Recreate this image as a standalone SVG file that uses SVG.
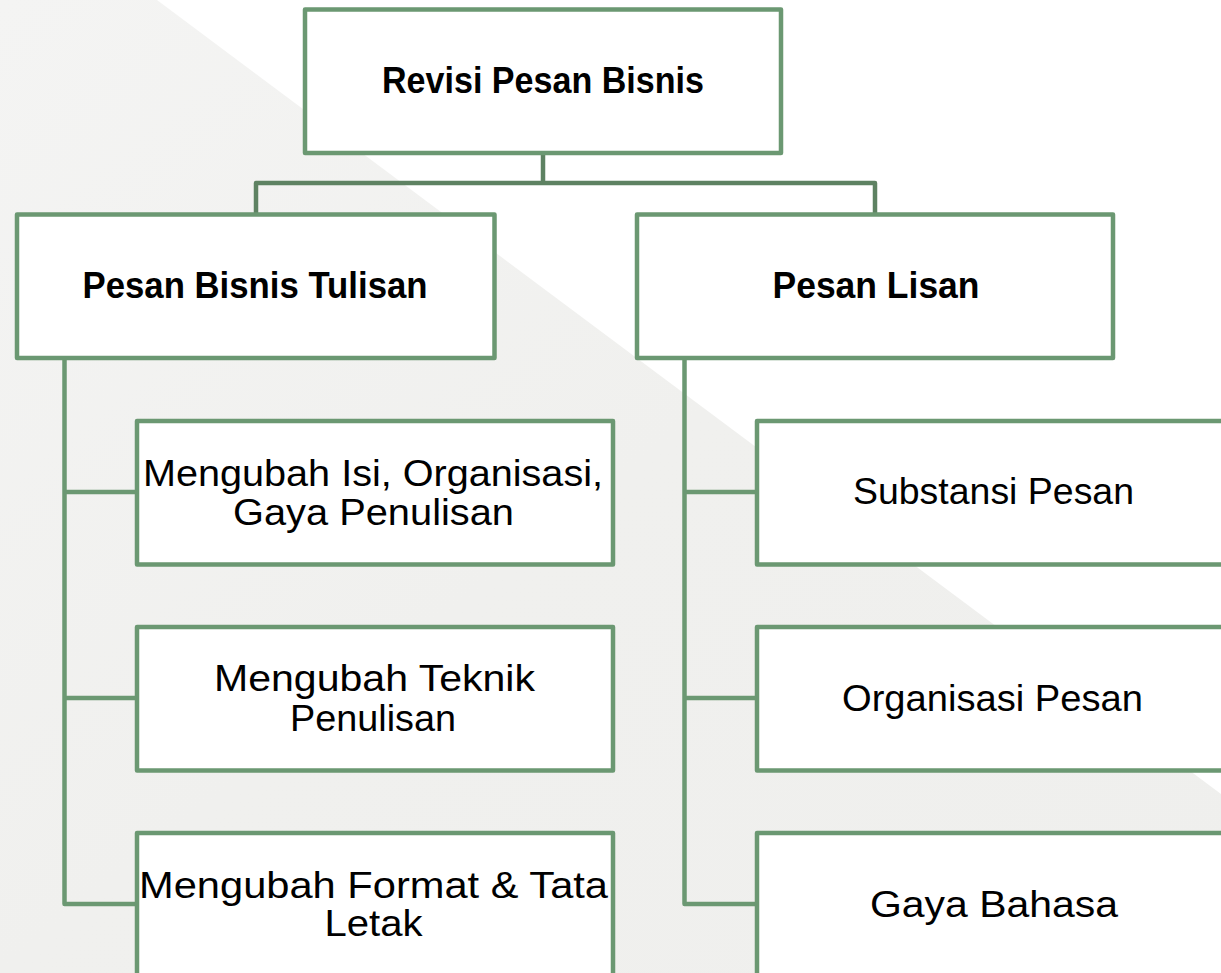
<svg xmlns="http://www.w3.org/2000/svg" width="1221" height="973" viewBox="0 0 1221 973">
  <defs>
    <linearGradient id="bg" x1="0" y1="0" x2="1" y2="1">
      <stop offset="0" stop-color="#f4f4f3"/>
      <stop offset="0.5" stop-color="#f0f0ee"/>
      <stop offset="1" stop-color="#efefed"/>
    </linearGradient>
    <style>
      .box { fill: #ffffff; stroke: #6b9872; stroke-width: 4.5; stroke-linejoin: round; }
      .conn { fill: none; stroke: #6b9872; stroke-width: 4.5; stroke-linejoin: round; stroke-linecap: round; }
      .connTop { fill: none; stroke: #5e8262; stroke-width: 4.5; stroke-linejoin: round; stroke-linecap: round; }
      .hd { font-family: "Liberation Sans", Arial, sans-serif; font-weight: bold; font-size: 36px; fill: #000000; text-anchor: middle; }
      .tx { font-family: "Liberation Sans", Arial, sans-serif; font-size: 37px; fill: #000000; text-anchor: middle; }
    </style>
  </defs>

  <rect x="0" y="0" width="1221" height="973" fill="#ffffff"/>
  <polygon points="0,0 157,0 1221,794 1221,973 0,973" fill="url(#bg)"/>

  <g id="connectors">
    <path class="connTop" d="M543,153 V183 M256,214 V183 H875 V214"/>
    <path class="conn" d="M64.5,358 V904 M64.5,492 H137 M64.5,698 H137 M64.5,904 H137"/>
    <path class="conn" d="M684.5,358 V904 M684.5,492 H757 M684.5,698 H757 M684.5,904 H757"/>
  </g>

  <g id="node-revisi">
    <rect class="box" x="305" y="9.5" width="476" height="143.5"/>
    <text class="hd" x="543" y="93" textLength="322" lengthAdjust="spacingAndGlyphs">Revisi Pesan Bisnis</text>
  </g>

  <g id="node-tulisan">
    <rect class="box" x="17" y="214.5" width="477.5" height="143.5"/>
    <text class="hd" x="255" y="298" textLength="345" lengthAdjust="spacingAndGlyphs">Pesan Bisnis Tulisan</text>
  </g>

  <g id="node-lisan">
    <rect class="box" x="637" y="214.5" width="476" height="143.5"/>
    <text class="hd" x="876" y="298" textLength="207" lengthAdjust="spacingAndGlyphs">Pesan Lisan</text>
  </g>

  <g id="node-isi">
    <rect class="box" x="137" y="421" width="476" height="143.5"/>
    <text class="tx" x="373" y="485.5" textLength="460" lengthAdjust="spacingAndGlyphs">Mengubah Isi, Organisasi,</text>
    <text class="tx" x="373.5" y="524.5" textLength="281" lengthAdjust="spacingAndGlyphs">Gaya Penulisan</text>
  </g>

  <g id="node-teknik">
    <rect class="box" x="137" y="627" width="476" height="143.5"/>
    <text class="tx" x="374.5" y="690.5" textLength="321" lengthAdjust="spacingAndGlyphs">Mengubah Teknik</text>
    <text class="tx" x="373" y="730.5" textLength="166" lengthAdjust="spacingAndGlyphs">Penulisan</text>
  </g>

  <g id="node-format">
    <rect class="box" x="137" y="833" width="476" height="143.5"/>
    <text class="tx" x="373.5" y="897.5" textLength="469" lengthAdjust="spacingAndGlyphs">Mengubah Format &amp; Tata</text>
    <text class="tx" x="373.5" y="935.5" textLength="98" lengthAdjust="spacingAndGlyphs">Letak</text>
  </g>

  <g id="node-substansi">
    <rect class="box" x="757" y="421" width="476" height="143.5"/>
    <text class="tx" x="993.5" y="504" textLength="281" lengthAdjust="spacingAndGlyphs">Substansi Pesan</text>
  </g>

  <g id="node-organisasi">
    <rect class="box" x="757" y="627" width="476" height="143.5"/>
    <text class="tx" x="992.5" y="711" textLength="301" lengthAdjust="spacingAndGlyphs">Organisasi Pesan</text>
  </g>

  <g id="node-gaya">
    <rect class="box" x="757" y="833" width="476" height="143.5"/>
    <text class="tx" x="994" y="917" textLength="248" lengthAdjust="spacingAndGlyphs">Gaya Bahasa</text>
  </g>
</svg>
